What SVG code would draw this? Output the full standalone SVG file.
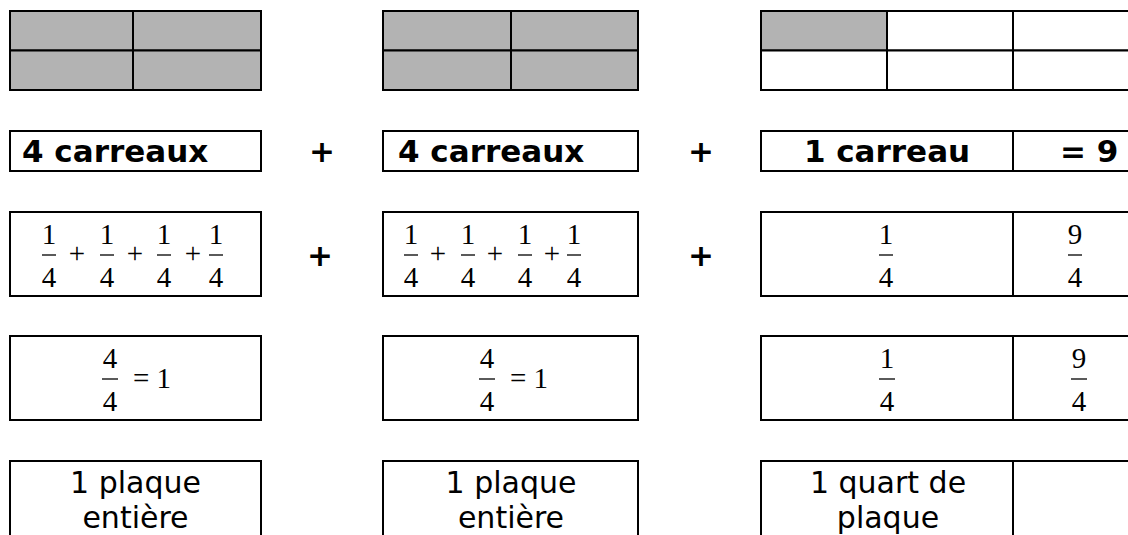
<svg xmlns="http://www.w3.org/2000/svg" width="1128" height="535" viewBox="0 0 1128 535">
<style>
.c{fill:#fff;stroke:#000;stroke-width:2}
.g{fill:#b3b3b3;stroke:#000;stroke-width:2}
.bt{font-family:"DejaVu Sans",Verdana,sans-serif;font-weight:bold;font-size:31px;fill:#000}
.pl{font-family:"DejaVu Sans",Verdana,sans-serif;font-weight:bold;font-size:31px;fill:#000;text-anchor:middle}
.st{font-family:"DejaVu Sans",Verdana,sans-serif;font-size:30px;fill:#000;text-anchor:middle}
.f{font-family:"Liberation Serif","Times New Roman",serif;font-size:29px;fill:#000;text-anchor:middle}
.eq{font-family:"Liberation Serif","Times New Roman",serif;font-size:29px;fill:#000;text-anchor:start}
.fs{font-family:"Liberation Serif","Times New Roman",serif;font-size:29px;fill:#000;text-anchor:middle}
.bar{stroke:#000;stroke-width:1.3}
</style>
<rect width="1128" height="535" fill="#fff"/>

<g id="grid1">
<rect class="g" x="10" y="11" width="123" height="39.5"/>
<rect class="g" x="133" y="11" width="128" height="39.5"/>
<rect class="g" x="10" y="50.5" width="123" height="39.5"/>
<rect class="g" x="133" y="50.5" width="128" height="39.5"/>
</g>
<g id="grid2">
<rect class="g" x="383" y="11" width="128" height="39.5"/>
<rect class="g" x="511" y="11" width="127" height="39.5"/>
<rect class="g" x="383" y="50.5" width="128" height="39.5"/>
<rect class="g" x="511" y="50.5" width="127" height="39.5"/>
</g>
<g id="grid3">
<rect class="g" x="761" y="11" width="126" height="39.5"/>
<rect class="c" x="887" y="11" width="126" height="39.5"/>
<rect class="c" x="1013" y="11" width="126" height="39.5"/>
<rect class="c" x="761" y="50.5" width="126" height="39.5"/>
<rect class="c" x="887" y="50.5" width="126" height="39.5"/>
<rect class="c" x="1013" y="50.5" width="126" height="39.5"/>
</g>

<g id="row2-box1">
<rect class="c" x="10" y="131" width="251" height="40"/>
<text class="bt" x="22" y="162">4 carreaux</text>
</g>
<g id="row2-plus1"><text class="pl" x="322" y="162">+</text></g>
<g id="row2-box2">
<rect class="c" x="383" y="131" width="255" height="40"/>
<text class="bt" x="398" y="162">4 carreaux</text>
</g>
<g id="row2-plus2"><text class="pl" x="701" y="162">+</text></g>
<g id="row2-box3">
<rect class="c" x="761" y="131" width="252" height="40"/>
<text class="bt" x="887" y="162" text-anchor="middle">1 carreau</text>
</g>
<g id="row2-box4">
<rect class="c" x="1013" y="131" width="130" height="40"/>
<text class="bt" x="1060" y="162">= 9</text>
</g>

<g id="row3-box1">
<rect class="c" x="10" y="212" width="251" height="84"/>
<text class="f" x="49" y="244">1</text><line class="bar" x1="42" y1="255" x2="56" y2="255"/><text class="f" x="49" y="287">4</text>
<text class="fs" x="77" y="263">+</text>
<text class="f" x="107" y="244">1</text><line class="bar" x1="100" y1="255" x2="114" y2="255"/><text class="f" x="107" y="287">4</text>
<text class="fs" x="135" y="263">+</text>
<text class="f" x="164" y="244">1</text><line class="bar" x1="157" y1="255" x2="171" y2="255"/><text class="f" x="164" y="287">4</text>
<text class="fs" x="193" y="263">+</text>
<text class="f" x="216" y="244">1</text><line class="bar" x1="209" y1="255" x2="223" y2="255"/><text class="f" x="216" y="287">4</text>
</g>
<g id="row3-plus1"><text class="pl" x="320" y="266">+</text></g>
<g id="row3-box2">
<rect class="c" x="383" y="212" width="255" height="84"/>
<text class="f" x="411" y="244">1</text><line class="bar" x1="404" y1="255" x2="418" y2="255"/><text class="f" x="411" y="287">4</text>
<text class="fs" x="438" y="263">+</text>
<text class="f" x="468" y="244">1</text><line class="bar" x1="461" y1="255" x2="475" y2="255"/><text class="f" x="468" y="287">4</text>
<text class="fs" x="495" y="263">+</text>
<text class="f" x="525" y="244">1</text><line class="bar" x1="518" y1="255" x2="532" y2="255"/><text class="f" x="525" y="287">4</text>
<text class="fs" x="552" y="263">+</text>
<text class="f" x="574" y="244">1</text><line class="bar" x1="567" y1="255" x2="581" y2="255"/><text class="f" x="574" y="287">4</text>
</g>
<g id="row3-plus2"><text class="pl" x="701" y="266">+</text></g>
<g id="row3-box3">
<rect class="c" x="761" y="212" width="252" height="84"/>
<text class="f" x="886" y="244">1</text><line class="bar" x1="879" y1="255" x2="893" y2="255"/><text class="f" x="886" y="287">4</text>
</g>
<g id="row3-box4">
<rect class="c" x="1013" y="212" width="130" height="84"/>
<text class="f" x="1075" y="244">9</text><line class="bar" x1="1068" y1="255" x2="1082" y2="255"/><text class="f" x="1075" y="287">4</text>
</g>

<g id="row4-box1">
<rect class="c" x="10" y="336" width="251" height="84"/>
<text class="f" x="110" y="368">4</text><line class="bar" x1="102" y1="379" x2="118" y2="379"/><text class="f" x="110" y="411">4</text>
<text class="eq" x="133" y="388">= 1</text>
</g>
<g id="row4-box2">
<rect class="c" x="383" y="336" width="255" height="84"/>
<text class="f" x="487" y="368">4</text><line class="bar" x1="479" y1="379" x2="495" y2="379"/><text class="f" x="487" y="411">4</text>
<text class="eq" x="510" y="388">= 1</text>
</g>
<g id="row4-box3">
<rect class="c" x="761" y="336" width="252" height="84"/>
<text class="f" x="887" y="368">1</text><line class="bar" x1="879" y1="379" x2="895" y2="379"/><text class="f" x="887" y="411">4</text>
</g>
<g id="row4-box4">
<rect class="c" x="1013" y="336" width="132" height="84"/>
<text class="f" x="1079" y="368">9</text><line class="bar" x1="1071" y1="379" x2="1087" y2="379"/><text class="f" x="1079" y="411">4</text>
</g>

<g id="row5-box1">
<rect class="c" x="10" y="461" width="251" height="90"/>
<text class="st" x="135.5" y="493">1 plaque</text>
<text class="st" x="135.5" y="528">entière</text>
</g>
<g id="row5-box2">
<rect class="c" x="383" y="461" width="255" height="90"/>
<text class="st" x="511" y="493">1 plaque</text>
<text class="st" x="511" y="528">entière</text>
</g>
<g id="row5-box3">
<rect class="c" x="761" y="461" width="252" height="90"/>
<text class="st" x="888" y="493">1 quart de</text>
<text class="st" x="888" y="528">plaque</text>
</g>
<g id="row5-box4">
<rect class="c" x="1013" y="461" width="132" height="90"/>
</g>
</svg>
